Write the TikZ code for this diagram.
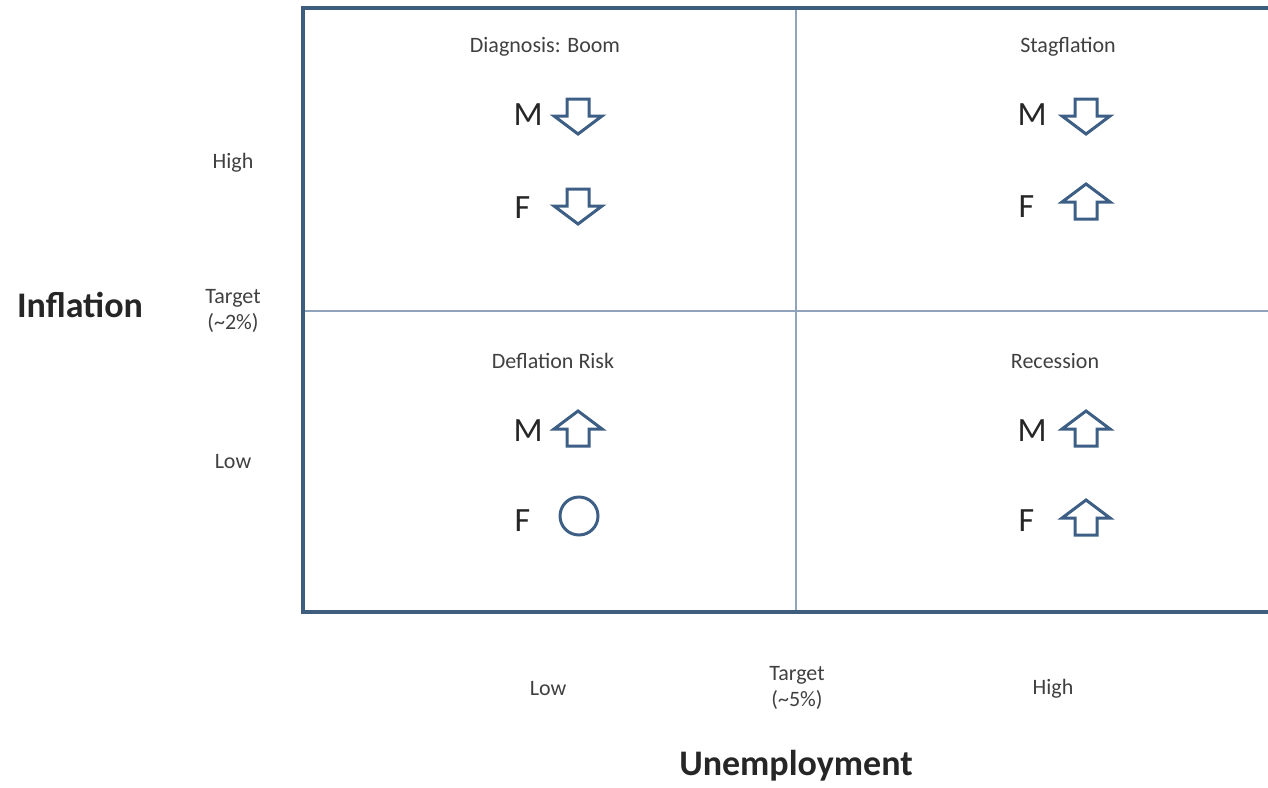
\documentclass[tikz,border=0pt]{standalone}
\usepackage{fontspec}
\setmainfont{Carlito}
\begin{document}
\begin{tikzpicture}[x=1pt,y=-1pt,
  frame/.style={draw=boxblue,line width=4pt},
  divider/.style={draw=lineblue,line width=1.2pt},
  qtitle/.style={font=\fontsize{22}{26}\selectfont,text=textgray},
  axlbl/.style={font=\fontsize{22}{26}\selectfont,text=textgray,align=center},
  axtitle/.style={font=\fontsize{36}{40}\selectfont\bfseries,text=black!85},
  letter/.style={font=\fontsize{34}{38}\selectfont,text=black!85,anchor=west},
  blockarrow/.style={draw=arrowblue,line width=3pt,fill=white,line join=miter},
  ringshape/.style={draw=arrowblue,line width=3pt},
  downarrow/.pic={\draw[blockarrow] (-11,-18) -- (11,-18) -- (11,-1) -- (24,-1) -- (0,17) -- (-24,-1) -- (-11,-1) -- cycle;},
  uparrow/.pic={\draw[blockarrow] (-11,18) -- (11,18) -- (11,1) -- (24,1) -- (0,-17) -- (-24,1) -- (-11,1) -- cycle;}]
\definecolor{boxblue}{HTML}{3F5E7E}
\definecolor{lineblue}{HTML}{8FA3BA}
\definecolor{arrowblue}{HTML}{3E5F85}
\definecolor{textgray}{HTML}{404040}
\useasboundingbox (0,0) rectangle (1268,787);
% frame
\coordinate (tl) at (303,8);
\coordinate (bl) at (303,612);
\coordinate (tr) at (1275,8);
\coordinate (br) at (1275,612);
\draw[divider] (796,10) -- (796,610);
\draw[divider] (305,311) -- (1275,311);
\draw[frame,line join=miter] (tr) -- (tl) -- (bl) -- (br);
% quadrant titles
\node[qtitle] (t1) at (545,47) {Diagnosis: Boom};
\node[qtitle] (t2) at (1068,47) {Stagflation};
\node[qtitle] (t3) at (553,361) {Deflation Risk};
\node[qtitle] (t4) at (1055,361) {Recession};
% letters
\node[letter] (m1) at (510,115) {M};
\node[letter] (f1) at (511,208) {F};
\node[letter] (m2) at (1014,115) {M};
\node[letter] (f2) at (1015,207) {F};
\node[letter] (m3) at (510,431) {M};
\node[letter] (f3) at (511,521) {F};
\node[letter] (m4) at (1014,431) {M};
\node[letter] (f4) at (1015,521) {F};
% symbols
\pic at (578,117) {downarrow};
\pic at (578,207) {downarrow};
\pic at (1086,117) {downarrow};
\pic at (1086,201) {uparrow};
\pic at (578,428) {uparrow};
\draw[ringshape] (579,516) circle (19);
\pic at (1086,428) {uparrow};
\pic at (1086,517) {uparrow};
% axis labels
\node[axlbl] (ih) at (233,163) {High};
\node[axlbl] (it) at (233,311) {Target\\(\textasciitilde2\%)};
\node[axlbl] (il) at (233,462) {Low};
\node[axtitle] (inf) at (80,305) {Inflation};
\node[axlbl] (ul) at (548,689) {Low};
\node[axlbl] (ut) at (797,688) {Target\\(\textasciitilde5\%)};
\node[axlbl] (uh) at (1053,689) {High};
\node[axtitle] (une) at (796,766) {Unemployment};
\end{tikzpicture}
\end{document}
